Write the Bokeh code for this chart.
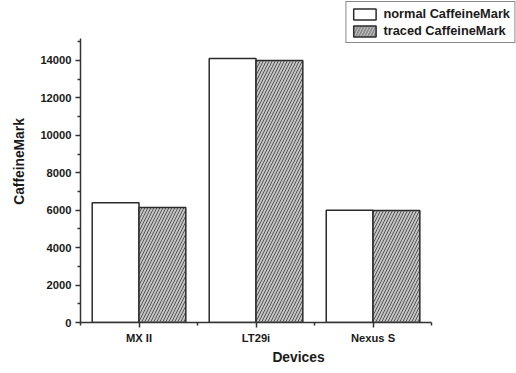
import numpy as np
from bokeh.plotting import figure
from bokeh.models import Range1d, FixedTicker, Legend, LegendItem
from bokeh.embed import file_html
from bokeh.resources import INLINE

devices = ["MX II", "LT29i", "Nexus S"]
normal_cm = [6400, 14100, 6000]
traced_cm = [6150, 14000, 5980]
y_major = [0, 2000, 4000, 6000, 8000, 10000, 12000, 14000]
y_minor = [1000, 3000, 5000, 7000, 9000, 11000, 13000, 15000]

FONT = "Liberation Sans"
idx = np.arange(len(devices)) + 0.5

p = figure(width=516, height=373, output_backend="svg", toolbar_location=None,
           x_range=Range1d(0, 3.726), y_range=Range1d(0, 17205),
           min_border_left=80, min_border_right=0, min_border_top=0,
           min_border_bottom=51)
p.outline_line_color = None
p.grid.visible = False
p.background_fill_color = "white"

r1 = p.vbar(x=idx - 0.2, width=0.4, top=normal_cm, fill_color="white",
            line_color="#2b2b2b", line_width=1.5)
r2 = p.vbar(x=idx + 0.2, width=0.4, top=traced_cm, fill_color="#c4c4c4",
            line_color="#2b2b2b", line_width=1.5,
            hatch_pattern="/", hatch_color="#555555", hatch_scale=6,
            hatch_weight=1)

xa = p.xaxis[0]
xa.ticker = FixedTicker(ticks=list(idx), minor_ticks=[0, 1, 2, 3])
xa.major_label_overrides = {float(v): d for v, d in zip(idx, devices)}
xa.bounds = (0, 3)
xa.axis_label = "Devices"

ya = p.yaxis[0]
ya.ticker = FixedTicker(ticks=y_major, minor_ticks=y_minor)
ya.bounds = (0, 15200)
ya.axis_label = "CaffeineMark"

for ax in (xa, ya):
    ax.axis_line_color = "#333333"
    ax.axis_line_width = 1.5
    ax.major_tick_line_color = "#333333"
    ax.minor_tick_line_color = "#333333"
    ax.major_tick_line_width = 1.5
    ax.minor_tick_line_width = 1.5
    ax.major_tick_in = 0
    ax.major_tick_out = 5
    ax.minor_tick_in = 0
    ax.minor_tick_out = 3
    ax.major_label_text_font = FONT
    ax.major_label_text_font_size = "11.2px"
    ax.major_label_text_font_style = "bold"
    ax.major_label_text_color = "#1a1a1a"
    ax.axis_label_text_font = FONT
    ax.axis_label_text_font_size = "13.8px"
    ax.axis_label_text_font_style = "bold"
    ax.axis_label_text_color = "#1a1a1a"
    ax.major_label_standoff = 4
xa.axis_label_standoff = 3
ya.axis_label_standoff = 10

legend = Legend(items=[LegendItem(label="normal CaffeineMark", renderers=[r1]),
                       LegendItem(label="traced CaffeineMark", renderers=[r2])],
                location="top_right", margin=1, padding=4, spacing=2,
                glyph_width=28, glyph_height=14, label_height=14,
                label_standoff=5, border_line_color="#111111",
                border_line_width=1.5, background_fill_alpha=1,
                label_text_font=FONT, label_text_font_size="12.8px",
                label_text_font_style="bold",
                label_text_color="#1a1a1a")
p.add_layout(legend)

open("out.html", "w").write(file_html(p, INLINE))
